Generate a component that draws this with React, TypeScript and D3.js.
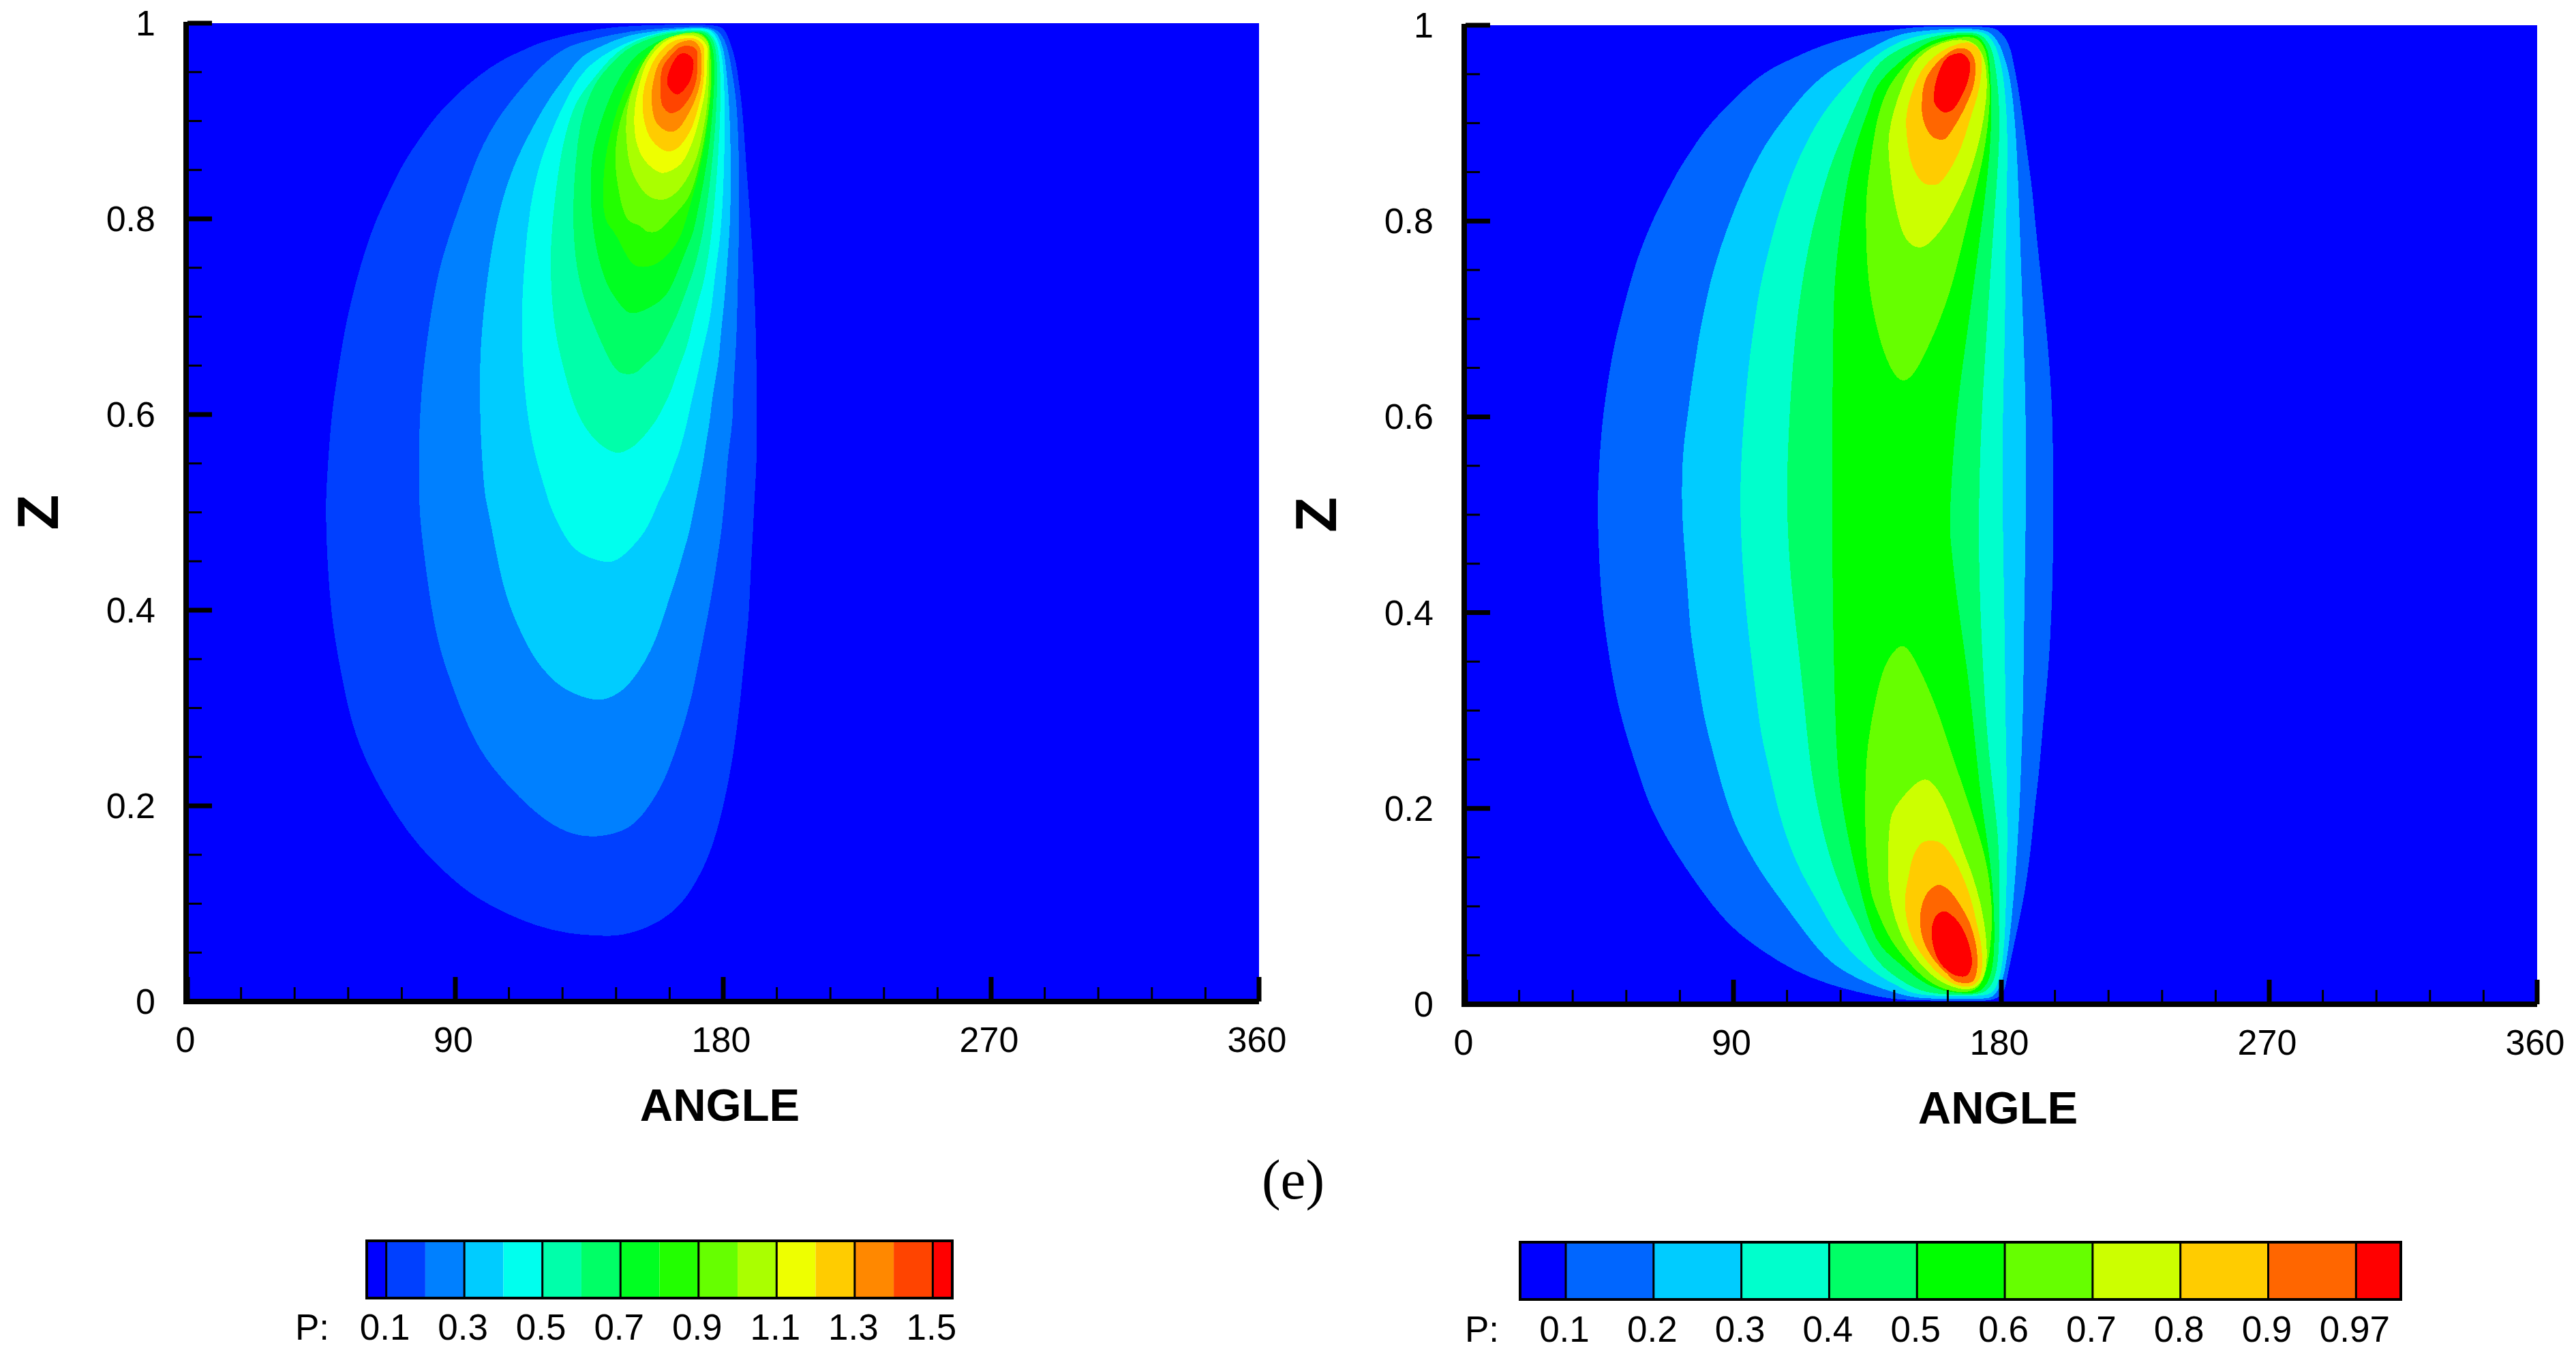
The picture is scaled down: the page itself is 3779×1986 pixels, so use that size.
import * as d3 from "d3";

type Pt = [number, number];

// ---- left panel: iso-lines of P as [angle, z] ----
const L_010: Pt[] = [[139.6,.067],[127.9,.069],[117.4,.077],[106.9,.09],[96.3,.107],[88.2,.127],[77.7,.158],[69.5,.193],[62.5,.23],[57.8,.261],[54.3,.295],[51.4,.339],[49.4,.373],[47.9,.41],[46.7,.466],[46.5,.508],[46.7,.523],[47.3,.556],[48.5,.601],[49.6,.625],[52,.672],[53.7,.699],[56.6,.736],[60.1,.772],[63.6,.801],[67.1,.823],[71.2,.85],[75.3,.87],[79.4,.888],[83.5,.905],[89.3,.924],[97.5,.946],[105.7,.963],[113.3,.973],[118,.98],[127.9,.988],[133.7,.992],[145.4,.997],[157.1,.998],[168.8,.999],[177.5,.998],[180.5,.995],[182.4,.98],[184.3,.961],[185.1,.943],[186.6,.91],[187.7,.854],[188.9,.81],[189.8,.766],[190.6,.722],[191.2,.655],[191.3,.592],[191.2,.548],[190.6,.522],[190,.48],[189.3,.445],[188.9,.413],[188.3,.383],[187.4,.362],[185.7,.305],[183.4,.251],[180.4,.203],[176.9,.163],[173.4,.136],[167.6,.105],[161.8,.088],[154.7,.075],[145.4,.067]];
const L_020: Pt[] = [[137.2,.167],[127.9,.171],[117.4,.19],[103.4,.234],[96.9,.264],[92.3,.295],[88.2,.329],[84.1,.366],[81.2,.416],[78.8,.474],[77.7,.508],[77.7,.588],[79.4,.655],[82.9,.726],[85.8,.763],[90,.801],[93.5,.831],[97.5,.865],[101.6,.889],[105.7,.909],[110.4,.927],[116.2,.948],[122,.965],[127.9,.976],[131.7,.98],[143.1,.989],[154.6,.994],[166,.996],[175.9,.997],[179.4,.99],[181.3,.977],[182.4,.961],[183.9,.933],[184.7,.91],[185.4,.854],[185.4,.801],[184.9,.736],[184.5,.68],[183.9,.65],[183.2,.613],[183.2,.592],[182,.568],[181.3,.548],[180.5,.513],[179.3,.478],[178.2,.457],[177.1,.434],[175.9,.413],[174.8,.394],[172.3,.356],[169.3,.308],[165.3,.268],[160.6,.227],[155.3,.2],[148.9,.175]];
const L_030: Pt[] = [[135.5,.308],[126.7,.318],[120.9,.334],[116.2,.352],[112.7,.373],[109.2,.396],[105.7,.428],[103.4,.464],[100.7,.508],[99.8,.517],[98.3,.584],[98.1,.652],[99.3,.703],[102,.77],[105.7,.821],[110.4,.861],[116.2,.895],[122,.926],[127.9,.948],[131.7,.966],[139.3,.977],[146.9,.987],[154.6,.991],[166,.995],[175.5,.996],[178.2,.989],[180.1,.975],[180.9,.956],[182,.922],[182.6,.864],[182.5,.801],[181.4,.757],[180.9,.736],[180.3,.713],[179.1,.68],[178.6,.657],[177.4,.636],[176.1,.613],[175.5,.592],[174.4,.575],[173.6,.557],[172.5,.538],[171.3,.52],[169.8,.499],[168.7,.48],[167.1,.464],[165.6,.448],[164.1,.432],[162.2,.415],[159,.384],[155.9,.359],[151.2,.335],[146.6,.318],[140.7,.308]];
const L_040: Pt[] = [[143.1,.449],[139.6,.449],[131.4,.457],[126.7,.474],[121.5,.508],[120.9,.517],[115.6,.567],[112.7,.635],[112.1,.703],[113.3,.76],[115,.814],[118.5,.861],[124.4,.905],[130.2,.94],[135.5,.959],[143.1,.974],[150.7,.984],[158.4,.991],[167.5,.994],[175.2,.995],[177.5,.988],[179.4,.973],[180.5,.943],[180.5,.864],[179.6,.801],[178.6,.771],[177.3,.745],[176.3,.713],[175.1,.69],[173.2,.668],[171.3,.638],[169.4,.615],[167.9,.592],[166.4,.575],[165.2,.561],[163.7,.55],[162.2,.536],[160.3,.522],[158.4,.513],[156.8,.499],[154.5,.485],[152.7,.476],[149.2,.464],[146.2,.455]];
const L_050: Pt[] = [[143.4,.56],[137.2,.571],[130.8,.598],[126.7,.642],[123.2,.686],[122,.736],[122,.777],[123.5,.824],[125.5,.868],[128.5,.905],[131.7,.926],[136.3,.943],[141.6,.963],[146.9,.977],[154.6,.987],[162.2,.992],[169.8,.993],[174.4,.993],[176.7,.986],[178.6,.975],[179.4,.933],[178.4,.864],[176.7,.801],[175.5,.771],[173.6,.736],[171.7,.717],[169.8,.696],[167.9,.668],[165.2,.65],[162.6,.624],[159.9,.608],[157.6,.594],[154.5,.582],[150.7,.568],[146.2,.561]];
const L_060: Pt[] = [[143.1,.646],[137.2,.686],[132,.726],[129.6,.774],[129.6,.824],[130.5,.861],[131.7,.896],[134.7,.924],[137.8,.943],[141.6,.956],[146.9,.973],[153,.982],[160.7,.99],[169.8,.992],[174,.992],[176.3,.985],[177.8,.973],[178.2,.933],[176.7,.864],[174,.801],[172.9,.782],[171,.757],[169,.738],[166.8,.72],[164.5,.701],[161.4,.682],[158.7,.664],[153,.65],[150.7,.641],[146.2,.641]];
const L_070: Pt[] = [[143.1,.722],[140.7,.733],[137.2,.767],[135.3,.814],[135.5,.854],[136.6,.877],[140,.91],[143.1,.933],[146.9,.954],[151.5,.97],[158.4,.983],[166,.99],[172.9,.992],[175.5,.984],[177.1,.97],[177.1,.933],[175.2,.864],[171,.801],[169.8,.784],[167.9,.771],[163.7,.738],[161.4,.724],[158.7,.715],[153.4,.706],[149.2,.702],[146.5,.707]];
const L_080: Pt[] = [[143.1,.789],[139.3,.799],[139.7,.854],[142,.887],[144.6,.915],[147.7,.938],[152.3,.963],[158.4,.98],[166.8,.989],[172.5,.991],[174.8,.984],[176.3,.968],[176.3,.933],[173.6,.864],[167.7,.801],[166,.784],[163.7,.771],[157.6,.751],[150.7,.75],[148.4,.757],[145.4,.775]];
const L_090: Pt[] = [[151.9,.793],[148,.799],[144.3,.84],[143.9,.873],[145.4,.9],[148.1,.924],[152.3,.952],[158.4,.975],[163.7,.987],[171.7,.99],[174.8,.982],[175.8,.961],[175.8,.933],[172.5,.864],[168.3,.822],[162.6,.801],[159.5,.791],[157.6,.787],[154.5,.787]];
const L_100: Pt[] = [[157.6,.82],[153.8,.826],[149.2,.85],[147.5,.88],[147.7,.91],[150,.938],[153.8,.963],[158.4,.98],[164.5,.988],[171.3,.989],[174.8,.98],[175.2,.959],[174.8,.922],[173.3,.891],[170.6,.859],[166,.833],[161.4,.821]];
const L_110: Pt[] = [[159.1,.847],[153.8,.859],[150.7,.88],[150.2,.91],[151.9,.938],[154.6,.961],[159.9,.98],[165.2,.987],[171.3,.986],[174.4,.977],[174.6,.961],[174,.933],[172.5,.91],[169.8,.88],[166,.857],[162.2,.849]];
const L_120: Pt[] = [[161,.869],[156.1,.88],[153.4,.901],[153,.926],[154.6,.947],[157.6,.966],[162.2,.98],[166,.984],[170.6,.984],[173.3,.977],[173.6,.961],[173.3,.938],[171.7,.915],[169.1,.891],[164.5,.872]];
const L_130: Pt[] = [[161.8,.889],[157.6,.898],[155.9,.922],[156.5,.94],[158.4,.959],[162.2,.973],[165.2,.98],[169.8,.982],[172.1,.975],[172.7,.961],[172.3,.94],[170.6,.922],[167.5,.903],[164.5,.891]];
const L_140: Pt[] = [[162.2,.908],[159.5,.916],[159,.933],[159.5,.954],[162.2,.966],[165.2,.975],[168.3,.977],[171,.973],[171.3,.959],[171,.943],[169.1,.926],[165.2,.911]];
const L_150: Pt[] = [[164.5,.927],[161.4,.936],[161.3,.945],[163,.959],[165.2,.968],[167.5,.969],[169.8,.963],[169.8,.952],[168.3,.938]];

// ---- right panel ----
const R_01: Pt[] = [[150.4,.004],[143.6,.0051],[134.8,.01],[122,.02],[110.3,.034],[99.8,.054],[89.2,.078],[81.1,.108],[74,.139],[68.2,.166],[63.5,.193],[60.6,.213],[57.7,.24],[54.8,.267],[51.9,.297],[49.5,.331],[47.2,.375],[45.4,.419],[44.6,.477],[44.3,.51],[44.9,.556],[46,.597],[47.2,.624],[49.5,.668],[51.9,.698],[54.8,.732],[57.7,.762],[61.2,.789],[64.1,.809],[68.2,.833],[71.7,.853],[75.8,.872],[79.9,.891],[85.7,.911],[91.6,.929],[97.4,.945],[103.3,.957],[109.1,.965],[116.1,.975],[124.3,.984],[133.6,.991],[147.3,.997],[155.7,.999],[176.3,.999],[179,.995],[181.3,.988],[183.2,.976],[184.3,.958],[185.5,.94],[187.4,.9],[189.3,.856],[190.5,.83],[191.4,.796],[195.3,.688],[197,.62],[197.5,.553],[197.5,.443],[196.1,.348],[194.4,.301],[192.6,.233],[191.3,.204],[190,.16],[188.1,.118],[186.2,.088],[183.2,.046],[181.7,.023],[180.9,.011],[177.8,.0045],[173.3,.003]];
const R_02: Pt[] = [[155,.0056],[150.4,.007],[143.6,.012],[136,.02],[127.8,.032],[120.8,.047],[113.8,.074],[105.6,.108],[99.8,.132],[95.1,.156],[90.4,.183],[86.3,.22],[83.4,.254],[79.9,.294],[78.2,.331],[75.5,.375],[74.6,.426],[73.5,.466],[72.5,.51],[72.9,.566],[74.6,.6],[75.5,.624],[77,.654],[78.7,.688],[81.1,.722],[82.8,.745],[86.3,.779],[89.2,.803],[92.2,.826],[95.7,.85],[100.9,.88],[106.8,.904],[113.8,.931],[120.8,.951],[127.8,.963],[137.1,.978],[145,.991],[152.7,.994],[160.3,.996],[174,.997],[177.5,.99],[179.7,.979],[181.3,.965],[183.2,.945],[185.1,.889],[186.1,.801],[187.4,.688],[188.3,.603],[188.3,.496],[187.6,.389],[187.4,.308],[186.8,.257],[186.2,.204],[185.1,.146],[183.9,.1],[182.4,.056],[180.9,.03],[179.7,.018],[177.1,.006],[173.3,.0056]];
const R_03: Pt[] = [[155,.008],[148.1,.013],[146.5,.017],[139.5,.027],[131.3,.047],[124.3,.071],[118.4,.105],[113.8,.128],[109.1,.159],[105,.196],[102.1,.24],[99.2,.274],[97.4,.321],[95.1,.375],[93.3,.433],[92,.51],[92.8,.57],[93.9,.613],[95.1,.654],[97.4,.705],[99.2,.738],[103.3,.789],[106.8,.823],[110.3,.853],[115,.884],[120.2,.911],[125.5,.931],[131.3,.951],[137.1,.968],[145,.983],[152.7,.99],[160.3,.993],[173.3,.995],[175.9,.989],[178.2,.979],[179.7,.963],[180.9,.945],[182.4,.889],[181.5,.801],[181.3,.688],[180.4,.603],[180.4,.496],[181.2,.375],[181.3,.308],[182,.204],[182,.146],[181.6,.111],[181.3,.074],[180.5,.046],[179.7,.03],[177.8,.011],[173.3,.008]];
const R_04: Pt[] = [[156.5,.01],[148.9,.018],[137.4,.043],[133.6,.071],[127.8,.105],[124.3,.132],[120.8,.166],[116.1,.23],[113.8,.308],[111.4,.375],[109.1,.436],[107.7,.51],[108.5,.586],[109.7,.644],[110.9,.688],[112.6,.728],[115,.772],[117.9,.809],[122,.853],[126.6,.887],[132.5,.928],[137.4,.96],[145,.975],[152.7,.985],[160.3,.991],[171.7,.994],[174.8,.986],[176.7,.977],[177.8,.963],[179,.935],[179.7,.889],[177.5,.801],[175.1,.688],[173.3,.603],[172.2,.496],[172.8,.409],[173.9,.341],[175.1,.274],[177.8,.204],[179,.169],[179.4,.134],[179.4,.088],[179.2,.053],[178.2,.028],[175.6,.013],[171,.009]];
const R_05: Pt[] = [[160.3,.013],[152.7,.023],[145,.044],[137.4,.062],[133,.112],[129,.162],[125.5,.22],[124.3,.274],[123.4,.392],[123.1,.51],[123.4,.705],[124.3,.755],[127.2,.823],[129.5,.86],[132.5,.891],[136,.918],[137.4,.938],[145,.961],[152.7,.979],[160.3,.989],[171,.992],[173.6,.985],[175.5,.975],[176.3,.958],[177.1,.889],[173.6,.801],[168.7,.688],[164.6,.603],[162.5,.496],[162.8,.477],[165.2,.409],[168.7,.341],[171,.274],[173.3,.204],[175.6,.162],[177.5,.111],[177.8,.065],[177.1,.03],[173.3,.011],[167.9,.011]];
const R_06_TOP: Pt[] = [[146.7,.633],[143,.647],[139.5,.674],[137.1,.705],[134.8,.745],[134.2,.823],[136,.857],[137.4,.896],[141.2,.935],[146.6,.956],[152.7,.975],[160.3,.985],[170.2,.99],[173.3,.983],[175.2,.972],[175.9,.947],[176.3,.924],[175.2,.889],[173.3,.854],[168.7,.801],[164,.738],[159.3,.698],[155.8,.674],[151.1,.644]];
const R_06_BOT: Pt[] = [[147.1,.371],[143,.358],[140,.341],[137.7,.311],[135.4,.274],[134.2,.237],[134.2,.156],[136,.115],[137.4,.102],[141.2,.074],[145,.056],[150.4,.037],[156.5,.02],[164.1,.012],[170.2,.012],[174,.021],[176.3,.053],[177.1,.088],[176.3,.123],[174,.16],[169.1,.204],[166.3,.23],[162.8,.26],[159.3,.294],[155.8,.321],[151.1,.352]];
const R_07_TOP: Pt[] = [[152.3,.771],[147.6,.779],[145.3,.803],[143.6,.826],[142,.866],[142,.889],[143.9,.914],[146.6,.938],[150.4,.963],[156.5,.978],[162.6,.985],[169.4,.986],[173.3,.975],[175.2,.956],[175.2,.926],[173.3,.889],[170.2,.854],[166.4,.826],[161.8,.798],[155.8,.776]];
const R_07_BOT: Pt[] = [[152.9,.233],[144.6,.204],[142.7,.192],[142,.169],[141.8,.123],[143.1,.1],[145.8,.072],[150.4,.049],[155.7,.031],[161,.02],[166.4,.015],[170.2,.015],[173.3,.021],[175.2,.037],[175.2,.065],[173.3,.102],[170.2,.134],[166.4,.162],[161.8,.204],[157,.228]];
const R_08_TOP: Pt[] = [[156.5,.837],[153.8,.839],[150.4,.854],[148.5,.88],[148.1,.907],[150.4,.935],[154.2,.958],[160.3,.974],[165.6,.981],[169.4,.982],[172.5,.975],[173.4,.958],[172.5,.935],[169.4,.903],[166.4,.875],[162.6,.852],[158.8,.838]];
const R_08_BOT: Pt[] = [[156.9,.167],[153.4,.165],[150.4,.151],[148.8,.13],[147.7,.111],[148.1,.088],[150.4,.065],[155,.044],[160.3,.028],[165.6,.019],[170.2,.019],[172.9,.028],[173.4,.056],[171.7,.083],[169.4,.111],[166,.137],[162.6,.155],[159.5,.165]];
const R_09_TOP: Pt[] = [[159.5,.883],[156.5,.887],[153.8,.903],[153.3,.921],[154.6,.945],[159.5,.965],[164.9,.976],[168.7,.975],[171,.965],[170.8,.94],[167.9,.917],[164.1,.896],[161.1,.884]];
const R_09_BOT: Pt[] = [[159.1,.122],[155.7,.116],[153.4,.102],[152.7,.083],[153.8,.065],[157.2,.046],[161.8,.031],[164.9,.023],[170.2,.023],[171.7,.033],[171.7,.056],[169.4,.083],[165.6,.104],[162.6,.116]];
const R_10_TOP: Pt[] = [[160.7,.911],[157.6,.92],[157.4,.931],[158.4,.947],[161.8,.967],[166.8,.971],[169.3,.963],[169.1,.947],[166.4,.926],[163.3,.913]];
const R_10_BOT: Pt[] = [[160.7,.095],[158,.09],[156.6,.076],[157.4,.056],[159.5,.042],[164.1,.03],[168.3,.029],[170,.039],[169.8,.053],[167.2,.076],[163.7,.09]];

const LEFT_COLORS = ["#0000ff","#0040ff","#0080ff","#00ccff","#00ffee","#00ffaa","#00ff66","#00ff22","#22ff00","#66ff00","#aaff00","#eeff00","#ffcc00","#ff8800","#ff4400","#ff0000"];
const RIGHT_COLORS = ["#0000ff","#0066ff","#00ccff","#00ffcc","#00ff66","#00ff00","#66ff00","#ccff00","#ffcc00","#ff6600","#ff0000"];

const LEFT_RINGS: Pt[][][] = [[L_010],[L_020],[L_030],[L_040],[L_050],[L_060],[L_070],[L_080],[L_090],[L_100],[L_110],[L_120],[L_130],[L_140],[L_150]];
const RIGHT_RINGS: Pt[][][] = [[R_01],[R_02],[R_03],[R_04],[R_05],[R_06_TOP,R_06_BOT],[R_07_TOP,R_07_BOT],[R_08_TOP,R_08_BOT],[R_09_TOP,R_09_BOT],[R_10_TOP,R_10_BOT]];

const ANGLE_TICKS = [0, 90, 180, 270, 360];
const ANGLE_MINOR = [18, 36, 54, 72, 108, 126, 144, 162, 198, 216, 234, 252, 288, 306, 324, 342];
const Z_TICKS = [0, 0.2, 0.4, 0.6, 0.8, 1];
const Z_MINOR = [0.05, 0.1, 0.15, 0.25, 0.3, 0.35, 0.45, 0.5, 0.55, 0.65, 0.7, 0.75, 0.85, 0.9, 0.95];

const LEFT_LEVELS = [0.1,0.2,0.3,0.4,0.5,0.6,0.7,0.8,0.9,1.0,1.1,1.2,1.3,1.4,1.5];
const LEFT_LABELS = ["0.1","0.3","0.5","0.7","0.9","1.1","1.3","1.5"];
const RIGHT_LABELS = ["0.1","0.2","0.3","0.4","0.5","0.6","0.7","0.8","0.9","0.97"];

const FONT = "'Liberation Sans', Arial, sans-serif";

function Panel({ x0, x1, y0, y1, colors, rings }: { x0: number; x1: number; y0: number; y1: number; colors: string[]; rings: Pt[][][] }) {
  const x = d3.scaleLinear().domain([0, 360]).range([x0, x1]);
  const y = d3.scaleLinear().domain([0, 1]).range([y0, y1]);
  // long rings carry reading noise, so smooth them; the small hot spots keep their shape
  const smooth = d3.line<Pt>().x((d) => x(d[0])).y((d) => y(d[1])).curve(d3.curveBasisClosed);
  const exact = d3.line<Pt>().x((d) => x(d[0])).y((d) => y(d[1])).curve(d3.curveCatmullRomClosed.alpha(0.5));
  return (
    <g>
      <rect x={x0} y={y1} width={x1 - x0} height={y0 - y1} fill={colors[0]} />
      {rings.map((group, i) =>
        group.map((ring, j) => (
          <path key={`${i}-${j}`} d={(ring.length >= 20 ? smooth(ring) : exact(ring)) || ""} fill={colors[i + 1]} shapeRendering="crispEdges" />
        ))
      )}
      {/* axis lines */}
      <line x1={x0 - 2} x2={x0 - 2} y1={y1 - 2} y2={y0 + 4} stroke="#000" strokeWidth={8} />
      <line x1={x0 - 6} x2={x1} y1={y0} y2={y0} stroke="#000" strokeWidth={8} />
      {ANGLE_MINOR.map((t) => <line key={t} x1={x(t)} x2={x(t)} y1={y0} y2={y0 - 21} stroke="#000" strokeWidth={3} />)}
      {ANGLE_TICKS.map((t) => (
        <g key={t}>
          <line x1={x(t)} x2={x(t)} y1={y0} y2={y0 - 36} stroke="#000" strokeWidth={7} />
          <text x={x(t) - 3} y={y0 + 74} textAnchor="middle" fontFamily={FONT} fontSize={52}>{t}</text>
        </g>
      ))}
      {Z_MINOR.map((t) => <line key={t} x1={x0} x2={x0 + 21} y1={y(t)} y2={y(t)} stroke="#000" strokeWidth={3} />)}
      {Z_TICKS.map((t) => (
        <g key={t}>
          <line x1={x0} x2={x0 + 36} y1={y(t)} y2={y(t)} stroke="#000" strokeWidth={7} />
          <text x={x0 - 47} y={y(t) + 18} textAnchor="end" fontFamily={FONT} fontSize={52}>{t}</text>
        </g>
      ))}
      <text x={(x0 + x1) / 2 - 5} y={y0 + 175} textAnchor="middle" fontFamily={FONT} fontWeight="bold" fontSize={67}>ANGLE</text>
      <text transform={`translate(${x0 - 220},${(y0 + y1) / 2}) rotate(-90)`} textAnchor="middle" dy={30} fontFamily={FONT} fontWeight="bold" fontSize={85}>Z</text>
    </g>
  );
}

function LegendLeft() {
  const lx = d3.scaleLinear().domain([0.05, 1.55]).range([538, 1397]);
  const edges = [0.05, ...LEFT_LEVELS, 1.55];
  const top = 1820, bottom = 1904;
  return (
    <g>
      {LEFT_COLORS.map((c, i) => <rect key={c} x={lx(edges[i])} y={top} width={lx(edges[i + 1]) - lx(edges[i])} height={bottom - top} fill={c} />)}
      {LEFT_LABELS.map((l) => (
        <g key={l}>
          <line x1={lx(+l)} x2={lx(+l)} y1={top} y2={bottom} stroke="#000" strokeWidth={3} />
          <text x={lx(+l) - 2} y={1965} textAnchor="middle" fontFamily={FONT} fontSize={53}>{l}</text>
        </g>
      ))}
      <rect x={538} y={top} width={859} height={bottom - top} fill="none" stroke="#000" strokeWidth={4} />
      <text x={458} y={1965} textAnchor="middle" fontFamily={FONT} fontSize={53}>P:</text>
    </g>
  );
}

function LegendRight() {
  const lx = d3.scaleLinear().domain([-0.52, 9.51]).range([2230, 3522]);
  const edges = [-0.52, ...d3.range(RIGHT_LABELS.length), 9.51];
  const top = 1822, bottom = 1906;
  return (
    <g>
      {RIGHT_COLORS.map((c, i) => <rect key={c} x={lx(edges[i])} y={top} width={lx(edges[i + 1]) - lx(edges[i])} height={bottom - top} fill={c} />)}
      {RIGHT_LABELS.map((l, i) => (
        <g key={l}>
          <line x1={lx(i)} x2={lx(i)} y1={top} y2={bottom} stroke="#000" strokeWidth={3} />
          <text x={lx(i) - 2} y={1968} textAnchor="middle" fontFamily={FONT} fontSize={53}>{l}</text>
        </g>
      ))}
      <rect x={2230} y={top} width={1292} height={bottom - top} fill="none" stroke="#000" strokeWidth={4} />
      <text x={2174} y={1968} textAnchor="middle" fontFamily={FONT} fontSize={53}>P:</text>
    </g>
  );
}

export default function App() {
  return (
    <svg width={3779} height={1986} style={{ position: "absolute", left: 0, top: 0, background: "#fff" }}>
      <Panel x0={275} x1={1847} y0={1469} y1={34} colors={LEFT_COLORS} rings={LEFT_RINGS} />
      <Panel x0={2150} x1={3722} y0={1473} y1={37} colors={RIGHT_COLORS} rings={RIGHT_RINGS} />
      <text x={1897} y={1758} textAnchor="middle" fontFamily="'Liberation Serif', serif" fontSize={83}>(e)</text>
      <LegendLeft />
      <LegendRight />
    </svg>
  );
}
